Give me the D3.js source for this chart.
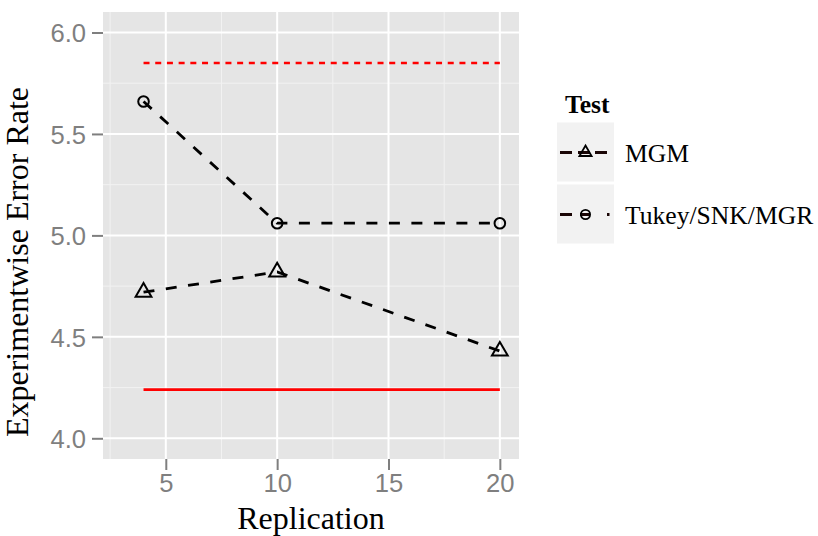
<!DOCTYPE html>
<html>
<head>
<meta charset="utf-8">
<script src="https://cdn.jsdelivr.net/npm/d3@7/dist/d3.min.js"></script>
<style>
  html, body { margin: 0; padding: 0; background: #ffffff; }
  svg { display: block; }
</style>
</head>
<body>
<script>
// Replication counts on the x axis
const replications = [4, 10, 20];
// Experimentwise error rate per test
const mgmRates = [4.72, 4.82, 4.43];
const tukeyRates = [5.66, 5.06, 5.06];
// Reference levels drawn in red across the replication range
const refUpper = 5.85;   // dotted
const refLower = 4.24;   // solid
const refSpan = [4, 20];

const xTicks = [5, 10, 15, 20];
const xMinor = [2.5, 7.5, 12.5, 17.5];
const yTicks = [4.0, 4.5, 5.0, 5.5, 6.0];
const yMinor = [4.25, 4.75, 5.25, 5.75];
const legendTitle = "Test";
const legendLabels = ["MGM", "Tukey/SNK/MGR"];

const W = 818, H = 536;
const panel = { left: 103, right: 519, top: 12, bottom: 459 };

const svg = d3.select("body").append("svg")
  .attr("width", W).attr("height", H);

const x = d3.scaleLinear().domain([2.18, 20.86]).range([panel.left, panel.right]);
const y = d3.scaleLinear().domain([3.898, 6.101]).range([panel.bottom, panel.top]);

// panel background
svg.append("rect")
  .attr("x", panel.left).attr("y", panel.top)
  .attr("width", panel.right - panel.left).attr("height", panel.bottom - panel.top)
  .attr("fill", "#e5e5e5");

const grid = svg.append("g");
// minor grid
grid.selectAll(".vminor").data(xMinor).join("line")
  .attr("x1", d => x(d)).attr("x2", d => x(d))
  .attr("y1", panel.top).attr("y2", panel.bottom)
  .attr("stroke", "#f2f2f2").attr("stroke-width", 1);
grid.selectAll(".hminor").data(yMinor).join("line")
  .attr("y1", d => y(d)).attr("y2", d => y(d))
  .attr("x1", panel.left).attr("x2", panel.right)
  .attr("stroke", "#f2f2f2").attr("stroke-width", 1);
// major grid
grid.selectAll(".vmajor").data(xTicks).join("line")
  .attr("x1", d => x(d)).attr("x2", d => x(d))
  .attr("y1", panel.top).attr("y2", panel.bottom)
  .attr("stroke", "#ffffff").attr("stroke-width", 2);
grid.selectAll(".hmajor").data(yTicks).join("line")
  .attr("y1", d => y(d)).attr("y2", d => y(d))
  .attr("x1", panel.left).attr("x2", panel.right)
  .attr("stroke", "#ffffff").attr("stroke-width", 2);

// axes
const xAxis = d3.axisBottom(x).tickValues(xTicks).tickFormat(d3.format("d"))
  .tickSizeInner(11).tickSizeOuter(0).tickPadding(4);
const yAxis = d3.axisLeft(y).tickValues(yTicks).tickFormat(d3.format(".1f"))
  .tickSizeInner(11).tickSizeOuter(0).tickPadding(6);

const gx = svg.append("g").attr("transform", `translate(0,${panel.bottom})`).call(xAxis);
const gy = svg.append("g").attr("transform", `translate(${panel.left},0)`).call(yAxis);
[gx, gy].forEach(g => {
  g.select(".domain").remove();
  g.selectAll(".tick line").attr("stroke", "#7f7f7f").attr("stroke-width", 2);
  g.selectAll(".tick text")
    .attr("fill", "#7f7f7f")
    .style("font-family", "'Liberation Sans', Arial, sans-serif")
    .style("font-size", "25.6px");
});
gx.selectAll(".tick text").attr("dy", "0.71em");
gy.selectAll(".tick text").attr("dy", "0.36em");

// axis titles
svg.append("text")
  .attr("x", (panel.left + panel.right) / 2).attr("y", 529)
  .attr("text-anchor", "middle")
  .style("font-family", "'Liberation Serif', 'Times New Roman', serif")
  .style("font-size", "32px")
  .attr("fill", "#000")
  .text("Replication");

svg.append("text")
  .attr("transform", `translate(28,262) rotate(-90)`)
  .attr("text-anchor", "middle")
  .style("font-family", "'Liberation Serif', 'Times New Roman', serif")
  .style("font-size", "32px")
  .attr("fill", "#000")
  .text("Experimentwise Error Rate");

// red reference lines
const refLine = d3.line().x(d => x(d[0])).y(d => y(d[1]));
svg.append("path")
  .attr("d", refLine(refSpan.map(v => [v, refUpper])))
  .attr("fill", "none").attr("stroke", "#ff0000").attr("stroke-width", 2.6)
  .attr("stroke-dasharray", "6 5.7");
svg.append("path")
  .attr("d", refLine(refSpan.map(v => [v, refLower])))
  .attr("fill", "none").attr("stroke", "#ff0000").attr("stroke-width", 2.6);

// test series
const series = [
  { name: legendLabels[0], values: mgmRates, shape: "triangle" },
  { name: legendLabels[1], values: tukeyRates, shape: "circle" }
];
const line = d3.line().x(d => x(d[0])).y(d => y(d[1]));
const triangle = d3.symbol().type(d3.symbolTriangle).size(108);

series.forEach(s => {
  const pts = replications.map((r, i) => [r, s.values[i]]);
  svg.append("path")
    .attr("d", line(pts))
    .attr("fill", "none").attr("stroke", "#000").attr("stroke-width", 2.8)
    .attr("stroke-dasharray", "11 11.5");
  const g = svg.append("g");
  if (s.shape === "circle") {
    g.selectAll("circle").data(pts).join("circle")
      .attr("cx", d => x(d[0])).attr("cy", d => y(d[1])).attr("r", 5.3)
      .attr("fill", "none").attr("stroke", "#000").attr("stroke-width", 2);
  } else {
    g.selectAll("path").data(pts).join("path")
      .attr("transform", d => `translate(${x(d[0])},${y(d[1])})`)
      .attr("d", triangle())
      .attr("fill", "none").attr("stroke", "#000").attr("stroke-width", 2)
      .attr("stroke-linejoin", "miter");
  }
});

// legend
const legend = svg.append("g");
legend.append("text")
  .attr("x", 565).attr("y", 113)
  .style("font-family", "'Liberation Serif', 'Times New Roman', serif")
  .style("font-size", "25.6px").style("font-weight", "bold")
  .text(legendTitle);

const keyX = 557, keyW = 57, keyH = 59, keyTops = [122.5, 184.5];
const keyDash = ["12 6 12 5 12", "12 8 10 17 2.5"];
const legendTri = d3.symbol().type(d3.symbolTriangle).size(64);

series.forEach((s, i) => {
  const top = keyTops[i], cy = top + keyH / 2 + 0.5;
  legend.append("rect")
    .attr("x", keyX).attr("y", top).attr("width", keyW).attr("height", keyH)
    .attr("fill", "#f2f2f2");
  legend.append("line")
    .attr("x1", keyX + 3).attr("x2", keyX + 53).attr("y1", cy).attr("y2", cy)
    .attr("stroke", "#1a0606").attr("stroke-width", 2.8)
    .attr("stroke-dasharray", keyDash[i]);
  if (s.shape === "circle") {
    legend.append("circle")
      .attr("cx", keyX + 28.5).attr("cy", cy).attr("r", 4.6)
      .attr("fill", "none").attr("stroke", "#000").attr("stroke-width", 1.8);
  } else {
    legend.append("path")
      .attr("transform", `translate(${keyX + 28.5},${cy})`)
      .attr("d", legendTri())
      .attr("fill", "none").attr("stroke", "#000").attr("stroke-width", 1.8);
  }
  legend.append("text")
    .attr("x", 625).attr("y", cy + 9)
    .style("font-family", "'Liberation Serif', 'Times New Roman', serif")
    .style("font-size", "25.6px")
    .text(s.name);
});
</script>
</body>
</html>
